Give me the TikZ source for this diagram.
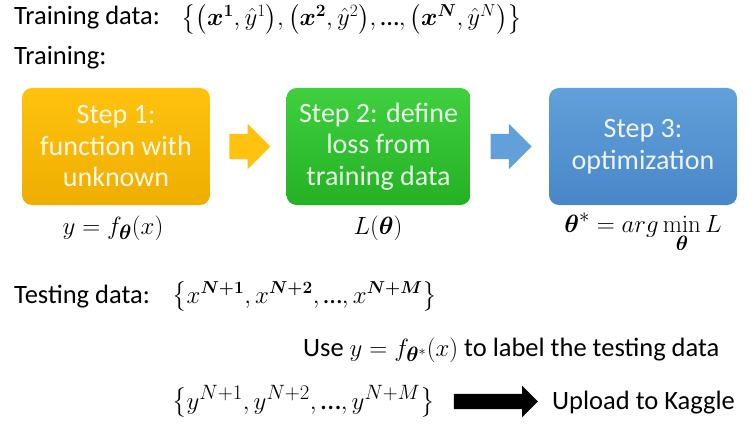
\documentclass[tikz,border=0pt]{standalone}
\usepackage{amsmath,bm}
\usepackage[no-math]{fontspec}
\setmainfont{Carlito}
\usetikzlibrary{shapes.arrows,positioning}
\definecolor{oneTop}{HTML}{FFC20E}
\definecolor{oneBot}{HTML}{EEAE00}
\definecolor{twoTop}{HTML}{3FCF3F}
\definecolor{twoBot}{HTML}{24B224}
\definecolor{threeTop}{HTML}{62A0DA}
\definecolor{threeBot}{HTML}{4886C8}
\newcommand\sdots{\text{\char"2026}}
\newcommand\bigmath{\fontsize{30}{32}\selectfont}
\tikzset{
    slide/.style    = {x=1pt, y=-1pt, font=\fontsize{26.5}{31}\selectfont},
    caption/.style  = {anchor=base west, inner sep=0pt},
    formula/.style  = {anchor=base, inner sep=0pt, font=\bigmath},
    stepbox/.style  = {rounded corners=10pt, minimum width=188pt,
                       minimum height=117pt, align=center,
                       text=white, text opacity=0.9,
                       font=\fontsize{28}{31.5}\selectfont},
    flow/.style     = {single arrow, single arrow head extend=10pt,
                       minimum height=41pt, inner xsep=0pt,
                       inner ysep=12.5pt},
    upload/.style   = {flow, fill=black, single arrow head extend=8pt,
                       inner ysep=7.5pt, minimum height=84pt}
}

\begin{document}
\begin{tikzpicture}[slide]
\useasboundingbox (0,0) rectangle (752,433);

% Training set and the three steps of training.
\node[caption] (trainlbl) at (14,25) {Training data:};
\node[caption] (trainset) at (181,26)
    {$\bigl\{\bigl(\bm{x}^{\bm{1}},\hat{y}^1\bigr),\bigl(\bm{x}^{\bm{2}},\hat{y}^2\bigr),\sdots,\bigl(\bm{x}^{\bm{N}},\hat{y}^N\bigr)\bigr\}$};
\node[caption] (traintitle) at (14,65) {Training:};

\node[stepbox, top color=oneTop, bottom color=oneBot]
    (step1) at (116,146.5) {Step 1:\\function with\\unknown};
\node[stepbox, top color=twoTop, bottom color=twoBot, minimum width=184pt]
    (step2) at (378.5,146.5) {Step 2: define\\loss from\\training data};
\node[stepbox, top color=threeTop, bottom color=threeBot]
    (step3) at (643,146.5) {Step 3:\\optimization};
\node[flow, fill=oneTop, right=19pt of step1] (go12) {};
\node[flow, fill=threeTop, left=17pt of step3] (go23) {};

\node[formula] (model) at (113,234) {$y = f_{\bm{\theta}}(x)$};
\node[formula] (loss) at (378,234) {$L(\bm{\theta})$};
\node[formula] (optim) at (643,232)
    {$\bm{\theta}^* = arg\min\limits_{\bm{\theta}} L$};

% Testing: label the test set with the trained model.
\node[caption] (testlbl) at (14,303) {Testing data:};
\node[caption] (testset) at (172,303)
    {$\bigl\{x^{\bm{N+1}},x^{\bm{N+2}},\sdots,x^{\bm{N+M}}\bigr\}$};
\node[caption] (uselbl) at (303,356)
    {Use {\fontsize{29}{31}\selectfont$y = f_{\bm{\theta}^*}(x)$} to label the testing data};
\node[caption, font=\fontsize{29}{31}\selectfont] (predset) at (172,409)
    {$\bigl\{y^{N+1},y^{N+2},\sdots,y^{N+M}\bigr\}$};
\node[upload] (push) at (492,401.5) {};
\node[caption] (kaggle) at (552,409) {Upload to Kaggle};

\end{tikzpicture}
\end{document}
